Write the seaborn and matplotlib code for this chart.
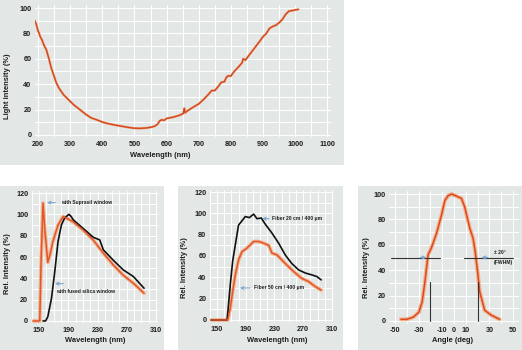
import matplotlib
matplotlib.use("Agg")
import matplotlib.pyplot as plt
from matplotlib.patches import Rectangle
from matplotlib.ticker import MultipleLocator
import seaborn as sns
import pandas as pd

sns.set_theme(style="white")
plt.rcParams['font.family'] = ['Liberation Sans', 'DejaVu Sans']
plt.rcParams['axes.unicode_minus'] = False

# ---------------- data ----------------
top_nm = [190, 195, 200, 203, 206, 210, 213, 218, 226, 234, 241, 249, 257, 265, 273, 280, 288,
          300, 310, 320, 335, 350, 365, 382, 400, 413, 430, 444, 460, 480, 500, 520, 540, 555,
          565, 572, 578, 585, 592, 600, 620, 640, 652, 655, 657, 665, 680, 700, 715, 730, 740,
          750, 760, 770, 780, 785, 790, 800, 810, 825, 835, 838, 845, 860, 875, 890, 900, 910,
          920, 930, 940, 950, 960, 970, 980, 990, 1000, 1010]
top_val = [90, 87, 82, 80.5, 78, 76, 74.5, 71, 67, 60, 53, 47, 41, 37, 34, 31.5, 29.5,
           26.5, 24, 22, 19, 16, 13.5, 12, 10.2, 9.2, 8.3, 7.6, 6.9, 6.0, 5.3, 5.2, 5.6, 6.3,
           7.2, 8.5, 11, 12, 11.5, 13, 14, 15.5, 17, 21, 17.5, 19, 21.5, 24.5, 28, 32, 35,
           35, 38, 41.5, 42, 45, 46.5, 46.5, 50, 54, 57, 60, 59, 64, 69, 74, 77.5, 80,
           84, 85.5, 86.5, 88.5, 91, 95, 97.5, 98, 98.5, 99]

supr_nm = [142, 151, 153, 155.5, 158, 162, 165, 169, 176, 183, 187.5, 196.6, 210, 224, 238,
           251.5, 265, 279, 293.6]
supr_val = [0, 0, 60, 110.6, 85, 55, 62, 74.6, 90, 98, 96.5, 93, 85.5, 76, 63.6,
            52.6, 43, 35.4, 26]
fused_nm = [155.5, 159, 162, 167, 171.5, 176, 180.6, 185, 190, 191, 194, 196.6, 210, 224,
            233, 238, 251.5, 265, 279, 293.6]
fused_val = [0, 0, 4, 21, 46, 74.6, 90, 96.5, 99.6, 100, 98, 95, 87, 78.6,
             76, 66.7, 57, 48, 41.7, 30.7]

f20_nm = [142, 164, 166, 168.5, 171.8, 175.5, 180, 184.8, 189.4, 195, 201, 205.6, 211.7,
          217, 226.5, 235.8, 245, 254, 263.6, 273, 282, 289, 295]
f20_val = [0, 0, 14, 33, 55, 70.5, 89, 93, 97, 96, 99.3, 95, 95.6,
           90, 81.5, 72, 61, 53, 47, 44, 42.3, 40.7, 37.6]
f50_nm = [142, 165, 168.5, 171.8, 175.5, 180, 184.8, 191.7, 196.4, 201, 208, 215, 222,
          226.5, 233.5, 245, 256.7, 268, 277.5, 286.8, 295]
f50_val = [0, 0, 11, 26.6, 42.3, 56.4, 64, 67.4, 70.5, 73.6, 73.6, 72, 70,
           62.7, 61, 53, 45.4, 39, 36, 31.3, 28]

ang_deg = [-45, -40, -34.5, -29.7, -27, -24.6, -23, -22, -19, -14.8, -10.6, -7.7, -5, -2,
           2, 6.3, 9, 13.4, 16.2, 18, 20, 21.8, 26, 31.7, 38.7]
ang_val = [1.3, 1.3, 3, 7, 15, 31, 44, 52, 58, 69, 83.4, 95, 98.7, 100,
           98.4, 96.6, 90, 73, 65, 54.5, 38.7, 23, 8.4, 4.5, 1.3]

top_xticks = [200, 300, 400, 500, 600, 700, 800, 900, 1000, 1100]
wl_xticks = [150, 190, 230, 270, 310]
ang_xticks = [-50, -30, -10, 0, 10, 30, 50]

# ---------------- figure ----------------
W, H = 522, 350
fig = plt.figure(figsize=(W / 100, H / 100), dpi=100)
BG = '#e3e7e6'
ORANGE = '#e0582a'
HALO = '#f4b28f'
ARROW = '#7ea6cf'
TXT = '#1e1e1e'


def px_rect(x0, y0, x1, y1):
    return [x0 / W, 1 - y1 / H, (x1 - x0) / W, (y1 - y0) / H]


for (x0, y0, x1, y1) in [(0, 0, 344, 165), (0, 186, 164, 350), (178, 186, 343, 350), (358, 186, 522, 350)]:
    r = px_rect(x0, y0, x1, y1)
    fig.add_artist(Rectangle((r[0], r[1]), r[2], r[3], transform=fig.transFigure,
                             facecolor=BG, edgecolor='none', zorder=-5))


def style_ax(ax, xlabel, ylabel, xticks, yticks, xminor, yminor, box, xl_px, yl_px):
    x0, y0, x1, y1 = box
    ax.set_facecolor('none')
    ax.patch.set_alpha(0)
    for s in ax.spines.values():
        s.set_visible(False)
    ax.set_xticks(xticks)
    ax.set_yticks(yticks)
    ax.xaxis.set_minor_locator(MultipleLocator(xminor))
    ax.yaxis.set_minor_locator(MultipleLocator(yminor))
    ax.grid(True, which='both', color='white', lw=0.7, zorder=0)
    ax.set_axisbelow(True)
    ax.tick_params(axis='both', which='both', length=0, labelsize=5.2, colors=TXT, pad=2.5)
    for lab in ax.get_xticklabels() + ax.get_yticklabels():
        lab.set_fontweight('bold')
    ax.set_xlabel(xlabel, fontsize=5.4, color=TXT, fontweight='bold')
    ax.set_ylabel(ylabel, fontsize=5.4, color=TXT, fontweight='bold')
    w, h = x1 - x0, y1 - y0
    ax.xaxis.set_label_coords((xl_px[0] - x0) / w, (y1 - xl_px[1]) / h)
    ax.yaxis.set_label_coords((yl_px[0] - x0) / w, (y1 - yl_px[1]) / h)


def note(ax, x, y, s):
    ax.text(x, y, s, fontsize=3.6, color=TXT, va='center', fontweight='bold')


# Top panel
box0 = (34.8, 5.5, 330.6, 137.5)
ax0 = fig.add_axes(px_rect(*box0))
ax0.set_zorder(1)
df0 = pd.DataFrame({'x': top_nm, 'y': top_val})
sns.lineplot(data=df0, x='x', y='y', ax=ax0, color='#f08a5c', lw=1.6, sort=False)
sns.lineplot(data=df0, x='x', y='y', ax=ax0, color='#cc4520', lw=0.8, sort=False)
ax0.set_xlim(190, 1110)
ax0.set_ylim(-2, 102)
style_ax(ax0, 'Wavelength (nm)', 'Light intensity (%)', top_xticks, range(0, 101, 20), 50, 10,
         box0, (160, 152.5), (11, 86))

# Panel 1
box1 = (31.7, 190.9, 157.5, 323.1)
ax1 = fig.add_axes(px_rect(*box1))
ax1.set_zorder(1)
df1a = pd.DataFrame({'x': supr_nm, 'y': supr_val})
df1b = pd.DataFrame({'x': fused_nm, 'y': fused_val})
sns.lineplot(data=df1a, x='x', y='y', ax=ax1, color=HALO, lw=2.6, sort=False)
sns.lineplot(data=df1b, x='x', y='y', ax=ax1, color='#111111', lw=1.2, sort=False)
sns.lineplot(data=df1a, x='x', y='y', ax=ax1, color=ORANGE, lw=1.1, sort=False)
ax1.set_xlim(140, 312)
ax1.set_ylim(-2, 122)
style_ax(ax1, 'Wavelength (nm)', 'Rel. Intensity (%)', wl_xticks, range(0, 121, 20), 10, 10,
         box1, (95, 337.5), (11, 264))
ax1.annotate('', xy=(157, 111), xytext=(176, 111),
             arrowprops=dict(arrowstyle='->', color=ARROW, lw=0.8, mutation_scale=5))
note(ax1, 180, 111, 'with Suprasil window')
ax1.annotate('', xy=(168, 35), xytext=(187, 35),
             arrowprops=dict(arrowstyle='->', color=ARROW, lw=0.8, mutation_scale=5))
note(ax1, 173, 28, 'with fused silica window')

# Panel 2
box2 = (209.8, 189.9, 333.4, 322.1)
ax2 = fig.add_axes(px_rect(*box2))
ax2.set_zorder(1)
df2a = pd.DataFrame({'x': f20_nm, 'y': f20_val})
df2b = pd.DataFrame({'x': f50_nm, 'y': f50_val})
sns.lineplot(data=df2b, x='x', y='y', ax=ax2, color=HALO, lw=2.6, sort=False)
sns.lineplot(data=df2a, x='x', y='y', ax=ax2, color='#111111', lw=1.2, sort=False)
sns.lineplot(data=df2b, x='x', y='y', ax=ax2, color=ORANGE, lw=1.1, sort=False)
ax2.set_xlim(140, 312)
ax2.set_ylim(-2, 122)
style_ax(ax2, 'Wavelength (nm)', 'Rel. Intensity (%)', wl_xticks, range(0, 121, 20), 10, 10,
         box2, (277, 337.5), (188, 268))
ax2.annotate('', xy=(209, 95), xytext=(226, 95),
             arrowprops=dict(arrowstyle='->', color=ARROW, lw=0.8, mutation_scale=5))
note(ax2, 227, 95, 'Fiber 20 cm / 400 \u03bcm')
ax2.annotate('', xy=(178, 30), xytext=(200, 30),
             arrowprops=dict(arrowstyle='->', color=ARROW, lw=0.8, mutation_scale=5))
note(ax2, 201, 30, 'Fiber 50 cm / 400 \u03bcm')

# Panel 3
box3 = (389.1, 191.5, 518.9, 323.5)
ax3 = fig.add_axes(px_rect(*box3))
ax3.set_zorder(1)
df3 = pd.DataFrame({'x': ang_deg, 'y': ang_val})
sns.lineplot(data=df3, x='x', y='y', ax=ax3, color=HALO, lw=2.8, sort=False)
sns.lineplot(data=df3, x='x', y='y', ax=ax3, color='#d94a1e', lw=1.1, sort=False)
ax3.set_xlim(-55, 55)
ax3.set_ylim(-2, 102)
style_ax(ax3, 'Angle (deg)', 'Rel. Intensity (%)', ang_xticks, range(0, 101, 20), 10, 10,
         box3, (453, 337.5), (370, 268))
ax3.plot([-20, -20], [0, 31], color='#333333', lw=0.8)
ax3.plot([20, 20], [0, 31], color='#333333', lw=0.8)
ax3.plot([-53, -12], [50, 50], color='#333333', lw=0.8)
ax3.plot([8.6, 50], [50, 50], color='#333333', lw=0.8)
ax3.annotate('', xy=(-21, 50), xytext=(-31, 50),
             arrowprops=dict(arrowstyle='->', color=ARROW, lw=0.9, mutation_scale=5))
ax3.annotate('', xy=(21, 50), xytext=(31, 50),
             arrowprops=dict(arrowstyle='->', color=ARROW, lw=0.9, mutation_scale=5))
note(ax3, 34, 54, '\u00b1 20\u00b0')
note(ax3, 34, 46, '(FWHM)')

fig.savefig('out.png', dpi=100)
